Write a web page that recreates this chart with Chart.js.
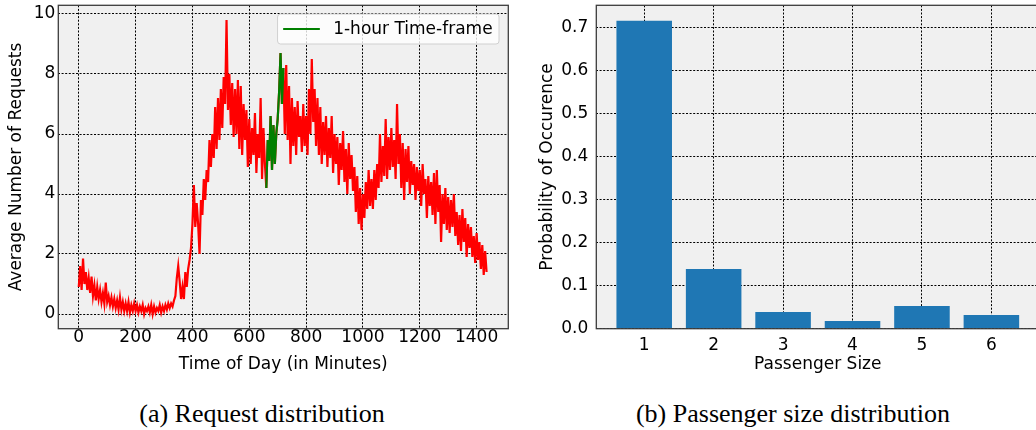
<!DOCTYPE html>
<html><head><meta charset="utf-8">
<script src="https://cdn.jsdelivr.net/npm/chart.js@4.4.1/dist/chart.umd.min.js"></script>
<style>
html,body{margin:0;padding:0;background:#fff;overflow:hidden;width:1036px;height:430px;}
canvas{position:absolute;top:0;}
#c1{left:0;}
#c2{left:520px;}
.cap{position:absolute;top:401px;font-family:"Liberation Serif","Times New Roman",serif;font-size:26px;line-height:26px;color:#000;white-space:nowrap;transform:translateX(-50%);}
</style></head><body>
<canvas id="c1" width="520" height="380"></canvas>
<canvas id="c2" width="530" height="380"></canvas>
<div class="cap" style="left:262px">(a) Request distribution</div>
<div class="cap" style="left:793px">(b) Passenger size distribution</div>
<script>
// ---------- data: request distribution (average requests, sampled every 5 minutes from 0) ----------
const requestStepMinutes = 5;
const requestValues = [
  0.9,1.6,0.8,1.85,1.0,1.4,0.8,1.2,0.7,1.25,0.6,0.95,0.45,0.9,0.5,0.8,0.4,0.7,0.35,1.05,
  0.4,0.6,0.3,0.55,0.25,0.5,0.2,0.45,0.15,0.55,0.15,0.4,0.1,0.35,0.1,0.4,0.05,0.3,0.1,0.35,
  0.1,0.3,0.05,0.25,0.1,0.3,0.0,0.2,0.1,0.25,0.05,0.3,0.0,0.25,0.05,0.2,0.1,0.3,0.05,0.25,
  0.1,0.3,0.15,0.35,0.2,0.35,0.25,0.45,0.6,1.2,1.6,1.1,0.5,0.9,0.5,1.4,0.9,1.5,1.8,2.2,
  3.0,4.3,2.9,3.7,3.0,2.0,3.8,3.3,4.5,3.8,4.8,4.4,5.8,4.9,6.0,5.2,6.9,5.5,7.2,5.8,
  7.5,6.2,7.9,7.0,9.8,6.8,8.0,6.3,7.7,5.9,7.5,6.0,7.8,5.5,7.6,5.3,7.0,5.8,6.8,4.9,
  6.5,5.0,6.2,5.3,6.7,4.7,6.0,5.2,7.2,4.5,6.2,5.0,4.2,5.8,5.1,6.6,4.8,6.3,5.0,6.0,
  6.5,7.4,8.7,7.0,8.2,6.0,8.3,5.8,7.6,5.0,7.2,5.6,6.9,5.3,7.1,5.9,6.6,5.4,7.0,5.6,
  6.6,5.3,7.5,6.0,8.5,6.4,7.5,5.6,7.2,5.3,6.9,5.0,6.4,5.3,6.6,4.9,6.2,5.2,6.6,4.7,
  6.0,5.0,5.9,4.3,5.7,4.8,6.1,4.4,5.5,4.0,5.7,4.5,5.3,4.1,4.9,3.4,4.6,3.0,4.2,2.8,
  4.0,3.2,4.4,3.5,4.8,3.6,4.5,3.5,4.8,3.8,5.0,4.2,6.0,4.4,5.6,4.6,6.5,4.5,5.9,4.8,
  6.2,4.9,5.8,4.5,7.0,5.0,6.0,4.2,5.7,3.8,5.5,4.4,5.6,4.0,5.1,4.3,5.0,3.8,4.9,4.1,
  4.8,3.6,5.0,4.0,4.5,3.2,4.6,3.6,4.4,3.3,4.7,3.0,4.8,3.4,4.3,2.4,4.0,3.0,4.2,2.8,
  3.9,2.7,3.8,2.9,4.0,2.6,3.4,2.3,3.3,2.1,3.5,2.4,3.2,1.9,3.0,2.2,2.9,1.9,2.6,1.7,
  2.7,1.8,2.4,1.5,2.3,1.3,2.1,1.4
];
// 1-hour time-frame highlight (minutes 660..720)
const frameMinutes = [660,665,670,675,680,685,690,695,700,705,710,715,720];
const frameValues  = [4.2,5.8,5.1,6.6,4.8,6.3,5.0,6.0,6.5,7.4,8.7,7.0,8.2];
const frameLabel = '1-hour Time-frame';
const requestXTicks = [0,200,400,600,800,1000,1200,1400];
const requestYTicks = [0,2,4,6,8,10];

// ---------- data: passenger size distribution ----------
const passengerSizes = [1,2,3,4,5,6];
const passengerProb  = [0.716,0.139,0.039,0.018,0.053,0.032];
const passengerYTicks = [0,0.1,0.2,0.3,0.4,0.5,0.6,0.7];

// ---------- shared styling ----------
const FONT = {family:'"DejaVu Sans", sans-serif', size:17, lineHeight:1.2};
const GRID = {color:'#000', lineWidth:1, drawTicks:false};
const BORDER = {display:false, dash:[2,1.6]};

const framePlugin = {
  id:'frame',
  beforeDraw(chart){
    const {ctx, chartArea:a} = chart;
    ctx.save(); ctx.fillStyle = '#f0f0f0';
    ctx.fillRect(a.left, a.top, a.right-a.left, a.bottom-a.top); ctx.restore();
  },
  afterDraw(chart){
    const {ctx, chartArea:a} = chart;
    ctx.save(); ctx.strokeStyle = '#3c3c3c'; ctx.lineWidth = 1.3;
    ctx.strokeRect(a.left, a.top, a.right-a.left, a.bottom-a.top);
    const lg = chart.options.plugins.insetLegend;
    if (lg && lg.text) {
      ctx.font = '17px "DejaVu Sans", sans-serif';
      const tw = ctx.measureText(lg.text).width;
      const w = tw + 62, h = 30;
      const x = a.right - 9.3 - w, y = a.top + 8.7;
      const r = 3;
      ctx.beginPath();
      ctx.moveTo(x+r,y); ctx.lineTo(x+w-r,y); ctx.quadraticCurveTo(x+w,y,x+w,y+r);
      ctx.lineTo(x+w,y+h-r); ctx.quadraticCurveTo(x+w,y+h,x+w-r,y+h);
      ctx.lineTo(x+r,y+h); ctx.quadraticCurveTo(x,y+h,x,y+h-r);
      ctx.lineTo(x,y+r); ctx.quadraticCurveTo(x,y,x+r,y); ctx.closePath();
      ctx.fillStyle = 'rgba(255,255,255,0.8)'; ctx.fill();
      ctx.strokeStyle = '#d0d0d0'; ctx.lineWidth = 1; ctx.stroke();
      ctx.strokeStyle = lg.color; ctx.lineWidth = 1.8;
      ctx.beginPath(); ctx.moveTo(x+5.6, y+h/2); ctx.lineTo(x+42.3, y+h/2); ctx.stroke();
      ctx.fillStyle = '#000'; ctx.textBaseline = 'middle'; ctx.textAlign = 'left';
      ctx.fillText(lg.text, x+55.6, y+h/2+1);
    }
    ctx.restore();
  }
};

const setTicks = vals => s => { s.ticks = vals.map(v => ({value:v})); };
const fixSize = (prop, v) => s => { s[prop] = v; s.paddingTop = 0; s.paddingBottom = 0; s.paddingLeft = 0; s.paddingRight = 0; };

// ---------- left chart ----------
new Chart(document.getElementById('c1'), {
  type:'line',
  data:{datasets:[
    {data: frameMinutes.map((m,i)=>({x:m, y:frameValues[i]})), borderColor:'#008000', borderWidth:2.2, pointRadius:0, tension:0, fill:false, order:0},
    {data: requestValues.map((v,i)=>({x:i*requestStepMinutes, y:v})), borderColor:'#ff0000', borderWidth:2.2, pointRadius:0, tension:0, fill:false, order:1}
  ]},
  options:{
    responsive:false, animation:false, events:[],
    layout:{padding:{left:6.4, right:11.7, top:5.3, bottom:0}},
    plugins:{legend:{display:false}, tooltip:{enabled:false}, insetLegend:{text:frameLabel, color:'#008000'}},
    scales:{
      x:{type:'linear', min:-72, max:1511.5, afterBuildTicks:setTicks(requestXTicks),
         afterFit:fixSize('height', 51.3),
         ticks:{font:FONT, color:'#000', padding:-1, maxRotation:0, autoSkip:false, callback:v=>String(v)},
         grid:GRID, border:BORDER,
         title:{display:true, text:'Time of Day (in Minutes)', font:FONT, color:'#000', padding:{top:0,bottom:5}}},
      y:{type:'linear', min:-0.49, max:10.29, afterBuildTicks:setTicks(requestYTicks),
         afterFit:fixSize('width', 51.9),
         ticks:{font:FONT, color:'#000', padding:3, autoSkip:false, callback:v=>String(v)},
         grid:GRID, border:BORDER,
         title:{display:true, text:'Average Number of Requests', font:FONT, color:'#000', padding:{top:0,bottom:0}}}
    }
  },
  plugins:[framePlugin]
});

// ---------- right chart ----------
new Chart(document.getElementById('c2'), {
  type:'bar',
  data:{datasets:[
    {data: passengerSizes.map((s,i)=>({x:s, y:passengerProb[i]})), backgroundColor:'#1f77b4', borderWidth:0, barPercentage:0.8, categoryPercentage:1.0}
  ]},
  options:{
    responsive:false, animation:false, events:[],
    layout:{padding:{left:17, right:10.7, top:5.3, bottom:0}},
    plugins:{legend:{display:false}, tooltip:{enabled:false}},
    scales:{
      x:{type:'linear', offset:false, min:0.31, max:6.69, afterBuildTicks:setTicks(passengerSizes),
         afterFit:fixSize('height', 51.3),
         ticks:{font:FONT, color:'#000', padding:7, maxRotation:0, autoSkip:false, callback:v=>String(v)},
         grid:Object.assign({offset:false}, GRID), border:BORDER,
         title:{display:true, text:'Passenger Size', font:FONT, color:'#000', padding:{top:0,bottom:5}}},
      y:{type:'linear', min:0, max:0.752, afterBuildTicks:setTicks(passengerYTicks),
         afterFit:fixSize('width', 59.3),
         ticks:{font:FONT, color:'#000', padding:8, autoSkip:false, callback:v=>v.toFixed(1)},
         grid:GRID, border:BORDER,
         title:{display:true, text:'Probability of Occurence', font:FONT, color:'#000', padding:{top:0,bottom:0}}}
    }
  },
  plugins:[framePlugin]
});
</script>
</body></html>
